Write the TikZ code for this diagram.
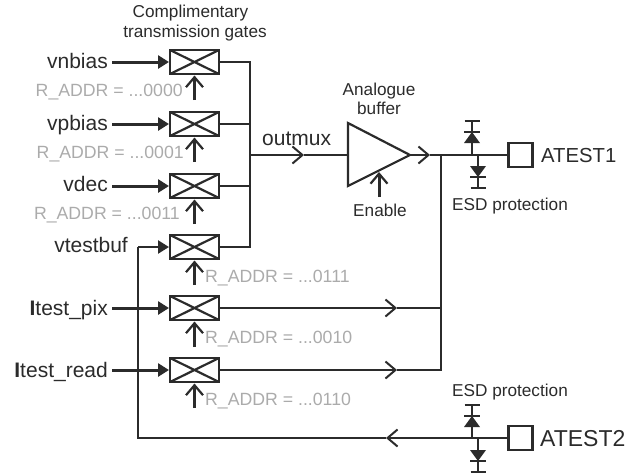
\documentclass[tikz,border=0pt]{standalone}
\usepackage{fontspec}
\setmainfont{Liberation Sans}
\usetikzlibrary{arrows.meta}
\definecolor{ink}{HTML}{2B2B2B}
\definecolor{addr}{HTML}{ABABAB}
\tikzset{
  x=1pt,y=-1pt,
  gatebox/.style={draw=ink,line width=2.6pt,minimum width=49pt,minimum height=24pt,inner sep=0pt,outer sep=0pt},
  padbox/.style={draw=ink,line width=2.2pt,minimum width=24pt,minimum height=24pt,inner sep=0pt,outer sep=0pt},
  wire/.style={draw=ink,line width=2pt},
  inwire/.style={draw=ink,line width=3pt,shorten >=1pt,-{Triangle[length=11pt,width=13pt]}},
  openwire/.style={draw=ink,line width=2pt,-{Straight Barb[length=10pt,width=17pt,line width=2pt]}},
  selwire/.style={draw=ink,line width=3pt,-{Straight Barb[length=10pt,width=17pt,line width=2.2pt]}},
  sig/.style={anchor=base east,inner sep=0pt,text=ink,font=\fontsize{21}{21}\selectfont},
  addrlab/.style={anchor=base west,inner sep=0pt,text=addr,font=\fontsize{17.7}{18}\selectfont},
  captext/.style={anchor=base,inner sep=0pt,text=ink,font=\fontsize{17.2}{18}\selectfont},
}
\newcommand{\crossgate}[1]{\draw[draw=ink,line width=2.2pt] (#1.north west) -- (#1.south east) (#1.south west) -- (#1.north east);}
\newcommand{\diodeup}[3]{% x, junction y, bar y
  \draw[wire] (#1,#2) -- (#1,#3);
  \draw[draw=ink,line width=2pt] (#1-7.5,#3) -- (#1+7.5,#3);
  \fill[ink] (#1-8,#3+22) -- (#1+8,#3+22) -- (#1,#3+11) -- cycle;
  \draw[draw=ink,line width=1.4pt] (#1-8,#3+11) -- (#1+8,#3+11);
}
\newcommand{\diodedn}[3]{%
  \draw[wire] (#1,#2) -- (#1,#3);
  \draw[draw=ink,line width=2pt] (#1-7.5,#3) -- (#1+7.5,#3);
  \fill[ink] (#1-8,#3-22) -- (#1+8,#3-22) -- (#1,#3-11) -- cycle;
  \draw[draw=ink,line width=1.4pt] (#1-8,#3-11) -- (#1+8,#3-11);
}
\begin{document}
\begin{tikzpicture}
\useasboundingbox (0,0) rectangle (641,475);
% gates
\node[gatebox] (g1) at (194.5,62) {};
\node[gatebox] (g2) at (194.5,124) {};
\node[gatebox] (g3) at (194.5,186) {};
\node[gatebox] (g4) at (194.5,247) {};
\node[gatebox] (g5) at (194.5,308) {};
\node[gatebox] (g6) at (194.5,370) {};
\foreach \g in {g1,g2,g3,g4,g5,g6}{\crossgate{\g}}
% captions
\node[captext] (c1) at (190.5,17) {Complimentary};
\node[captext] (c2) at (195,37) {transmission gates};
\node[captext] (c3) at (379,95) {Analogue};
\node[captext] (c4) at (379,114) {buffer};
\node[captext] (c5) at (380,216) {Enable};
\node[captext] (c6) at (510,210) {ESD protection};
\node[captext] (c7) at (510,396) {ESD protection};
% signal names
\node[sig] (s1) at (108,68) {vnbias};
\node[sig] (s2) at (108,130) {vpbias};
\node[sig] (s3) at (108,191) {vdec};
\node[sig] (s4) at (128,252) {vtestbuf};
\node[sig] (s5) at (108,315) {\textbf{I}test\_pix};
\node[sig] (s6) at (108,377) {\textbf{I}test\_read};
\node[sig,anchor=base west] (om) at (262,145) {outmux};
% address labels
\node[addrlab,anchor=base east] (a1) at (183,96) {R\_ADDR = ...0000};
\node[addrlab,anchor=base east] (a2) at (184,158) {R\_ADDR = ...0001};
\node[addrlab,anchor=base east] (a3) at (180,219) {R\_ADDR = ...0011};
\node[addrlab] (a4) at (205,282) {R\_ADDR = ...0111};
\node[addrlab] (a5) at (205,343) {R\_ADDR = ...0010};
\node[addrlab] (a6) at (205,405) {R\_ADDR = ...0110};
% inputs
\coordinate (i1) at (112,62);
\coordinate (i2) at (112,124);
\coordinate (i3) at (112,186);
\coordinate (i5) at (112,308);
\coordinate (i6) at (112,370);
\draw[inwire] (i1) -- (g1.west);
\draw[inwire] (i2) -- (g2.west);
\draw[inwire] (i3) -- (g3.west);
\draw[inwire] (i5) -- (g5.west);
\draw[inwire] (i6) -- (g6.west);
% select arrows
\foreach \g/\yy in {g1/100,g2/162,g3/224,g4/285,g5/347,g6/408}{
  \coordinate (sel\g) at (194.5,\yy);
  \draw[selwire] (sel\g) -- ([yshift=-1.5pt]\g.south);
}
% bus
\coordinate (bus1) at (250,62);
\coordinate (bus2) at (250,124);
\coordinate (bus3) at (250,186);
\coordinate (bus4) at (250,247);
\coordinate (busm) at (250,155);
\draw[wire] (g1.east) -- (bus1) -- (bus4) -- (g4.east);
\draw[wire] (g2.east) -- (bus2);
\draw[wire] (g3.east) -- (bus3);
% buffer
\coordinate (b1) at (348,123);
\coordinate (b2) at (348,186);
\node[inner sep=0pt,outer sep=0pt] (btip) at (410,155) {};
\coordinate (bin) at (348,155);
\draw[draw=ink,line width=2.2pt,line join=miter] (b1) -- (btip.center) -- (b2) -- cycle;
\coordinate (am) at (304,155);
\draw[openwire] (busm) -- (am);
\draw[wire] (am) -- (bin);
\coordinate (en0) at (379,197);
\coordinate (en1) at (379,172);
\draw[selwire] (en0) -- (en1);
% output
\node[padbox] (p1) at (520.5,155) {};
\node[padbox] (p2) at (520.5,438) {};
\coordinate (o1) at (430,155);
\coordinate (j1) at (441,155);
\coordinate (j5) at (441,308);
\coordinate (j6) at (441,370);
\draw[openwire] (btip.center) -- (o1);
\draw[wire] (o1) -- (p1.west);
\coordinate (a5m) at (397,308);
\coordinate (a6m) at (397,370);
\draw[openwire] (g5.east) -- (a5m);
\draw[openwire] (g6.east) -- (a6m);
\draw[wire] (j1) -- (j6) -- (a6m);
\draw[wire] (j5) -- (a5m);
% feedback
\coordinate (f1) at (138,438);
\coordinate (f2) at (138,247);
\coordinate (fm) at (386,438);
\draw[openwire] (p2.west) -- (fm);
\draw[wire] (fm) -- (f1) -- (f2);
\draw[inwire,line width=2.4pt] (f2) -- (g4.west);
% diodes
\diodeup{472}{155}{121}
\diodedn{478}{155}{188}
\diodeup{472}{438}{405}
\diodedn{478}{438}{472}
% pad labels
\node[sig,anchor=base west,font=\fontsize{20.3}{21}\selectfont] (t1) at (541,162) {ATEST1};
\node[sig,anchor=base west,font=\fontsize{23}{23}\selectfont] (t2) at (540,446) {ATEST2};
\end{tikzpicture}
\end{document}
